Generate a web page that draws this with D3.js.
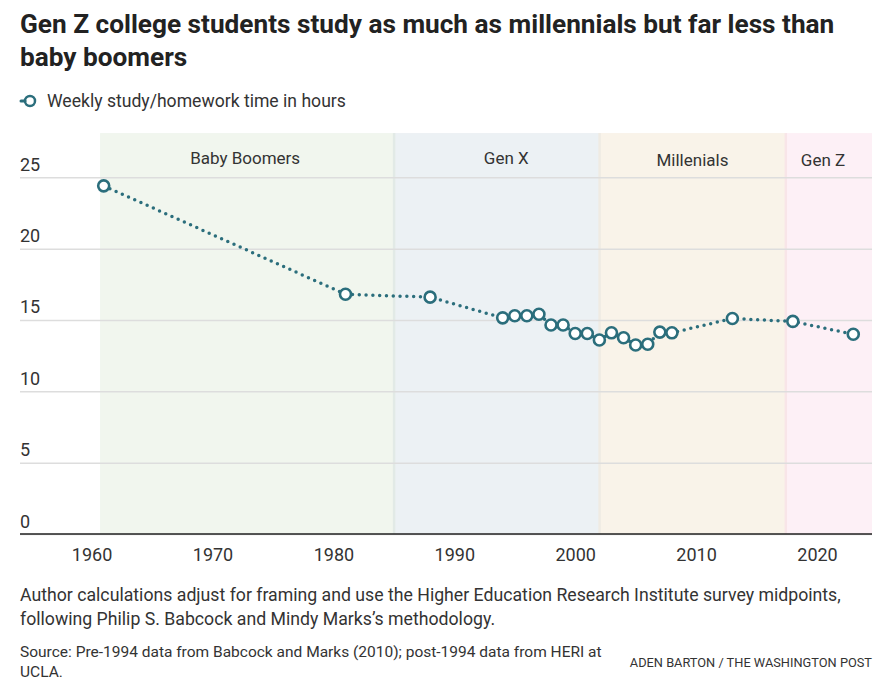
<!DOCTYPE html>
<html>
<head>
<meta charset="utf-8">
<script src="https://cdn.jsdelivr.net/npm/d3@7"></script>
<style>
  body { margin: 0; background: #fff; }
  svg text { font-family: Roboto, "Liberation Sans", sans-serif; fill: #333; }
</style>
</head>
<body>
<svg id="chart" width="888" height="688"></svg>
<script>
// weekly study hours
var years = [1961, 1981, 1988, 1994, 1995, 1996, 1997, 1998, 1999, 2000, 2001, 2002, 2003,
             2004, 2005, 2006, 2007, 2008, 2013, 2018, 2023];
var hours = [24.4, 16.8, 16.6, 15.15, 15.3, 15.3, 15.4, 14.65, 14.65, 14.05, 14.05, 13.6, 14.1,
             13.75, 13.25, 13.3, 14.15, 14.1, 15.1, 14.9, 14.0];

var genNames = ["Baby Boomers", "Gen X", "Millenials", "Gen Z"];
var genStart = [1960.7, 1985, 2002, 2017.4];
var genEnd = [1985, 2002, 2017.4, 2024.55];
var genLabelAt = [1972.7, 1994.3, 2009.7, 2020.5];
var genFill = ["#f1f6ee", "#ecf1f4", "#f9f3e9", "#fdf0f6"];
var genEdge = ["#f1f6ee", "#e2eae6", "#efebe3", "#f8e5e8"];

var xTicks = [1960, 1970, 1980, 1990, 2000, 2010, 2020];
var yTicks = [0, 5, 10, 15, 20, 25];

var teal = "#2b6e7c";

var data = years.map(function(d, i) { return [d, hours[i]]; });

var left = 20, right = 872;

var x = d3.scaleLinear()
    .domain([1960, 2020])
    .range([91.6, 817]);

var y = d3.scaleLinear()
    .domain([0, 25])
    .range([534, 177.3]);

var svg = d3.select("#chart");

// title
svg.append("text")
    .attr("x", 20).attr("y", 33)
    .style("font-size", "26.2px").style("font-weight", "bold").style("fill", "#222")
    .text("Gen Z college students study as much as millennials but far less than");
svg.append("text")
    .attr("x", 20).attr("y", 66)
    .style("font-size", "26.2px").style("font-weight", "bold").style("fill", "#222")
    .text("baby boomers");

// legend
svg.append("circle")
    .attr("cx", 30).attr("cy", 101).attr("r", 5)
    .attr("fill", "#fff").attr("stroke", teal).attr("stroke-width", 2.5);
svg.append("line")
    .attr("x1", 21).attr("x2", 25).attr("y1", 101).attr("y2", 101)
    .attr("stroke", teal).attr("stroke-width", 3).attr("stroke-linecap", "round");
svg.append("text")
    .attr("x", 47).attr("y", 107)
    .style("font-size", "17.6px")
    .text("Weekly study/homework time in hours");

// generation bands
var bandTop = y(28.1);
var bands = svg.append("g");
genNames.forEach(function(name, i) {
  bands.append("rect")
    .attr("x", x(genStart[i])).attr("y", bandTop)
    .attr("width", x(genEnd[i]) - x(genStart[i]))
    .attr("height", y(0) - bandTop)
    .attr("fill", genFill[i]);
  if (i > 0) {
    bands.append("rect")
      .attr("x", x(genStart[i]) - 1).attr("y", bandTop)
      .attr("width", 2.5).attr("height", y(0) - bandTop)
      .attr("fill", genEdge[i]);
  }
  bands.append("text")
    .attr("x", x(genLabelAt[i])).attr("y", i < 2 ? 164 : 166)
    .attr("text-anchor", "middle")
    .style("font-size", "17px")
    .text(name);
});

// y axis + grid
var yAxis = d3.axisRight(y)
    .tickValues(yTicks)
    .tickSize(right - left);

svg.append("g")
    .attr("transform", "translate(" + left + ",0)")
    .call(yAxis)
    .call(function(g) {
      g.select(".domain").remove();
      g.selectAll(".tick line").attr("stroke", "#ddd").attr("stroke-width", 1.5);
      g.selectAll(".tick text")
        .attr("x", 0).attr("dy", -7)
        .attr("text-anchor", "start")
        .style("font-size", "18px").style("fill", "#333");
    });

// x axis
var xAxis = d3.axisBottom(x)
    .tickValues(xTicks)
    .tickFormat(d3.format("d"))
    .tickSize(0)
    .tickPadding(14);

svg.append("g")
    .attr("transform", "translate(0," + y(0) + ")")
    .call(xAxis)
    .call(function(g) {
      g.select(".domain").remove();
      g.selectAll(".tick text").style("font-size", "18px").style("fill", "#333");
    });

svg.append("line")
    .attr("x1", left).attr("x2", right)
    .attr("y1", y(0)).attr("y2", y(0))
    .attr("stroke", "#222").attr("stroke-width", 1.5);

// dotted line
var line = d3.line()
    .x(function(d) { return x(d[0]); })
    .y(function(d) { return y(d[1]); });

svg.append("path")
    .datum(data)
    .attr("d", line)
    .attr("fill", "none")
    .attr("stroke", teal)
    .attr("stroke-width", 3.5)
    .attr("stroke-linecap", "round")
    .attr("stroke-dasharray", "0 6.8");

svg.selectAll(".pt")
    .data(data)
  .enter().append("circle")
    .attr("class", "pt")
    .attr("cx", function(d) { return x(d[0]); })
    .attr("cy", function(d) { return y(d[1]); })
    .attr("r", 5.5)
    .attr("fill", "#fff")
    .attr("stroke", teal)
    .attr("stroke-width", 2.6);

// notes
svg.append("text")
    .attr("x", 20).attr("y", 601)
    .style("font-size", "17.7px")
    .text("Author calculations adjust for framing and use the Higher Education Research Institute survey midpoints,");
svg.append("text")
    .attr("x", 20).attr("y", 625)
    .style("font-size", "17.7px")
    .text("following Philip S. Babcock and Mindy Marks\u2019s methodology.");
svg.append("text")
    .attr("x", 20).attr("y", 657)
    .style("font-size", "15.5px")
    .text("Source: Pre-1994 data from Babcock and Marks (2010); post-1994 data from HERI at");
svg.append("text")
    .attr("x", 20).attr("y", 677)
    .style("font-size", "15.5px")
    .text("UCLA.");
svg.append("text")
    .attr("x", right).attr("y", 667)
    .attr("text-anchor", "end")
    .style("font-size", "12.8px")
    .text("ADEN BARTON / THE WASHINGTON POST");
</script>
</body>
</html>
